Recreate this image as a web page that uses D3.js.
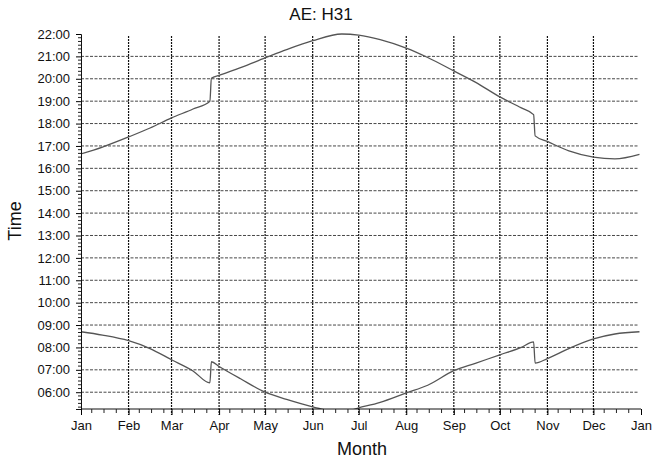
<!DOCTYPE html>
<html>
<head>
<meta charset="utf-8">
<script src="https://cdn.jsdelivr.net/npm/d3@7"></script>
<style>
  body { margin: 0; background: #fff; }
  text { font-family: "Liberation Sans", Arial, sans-serif; fill: #111; }
</style>
</head>
<body>
<svg width="652" height="466"></svg>
<script>
"use strict";

// 日付ごとの日没・日の出 (時間, 10進数)
const sunsetDates = ["2019-01-01","2019-01-15","2019-02-01","2019-02-15","2019-03-01","2019-03-15","2019-03-26","2019-03-27","2019-04-01","2019-04-15","2019-05-01","2019-05-15","2019-06-01","2019-06-20","2019-07-01","2019-07-15","2019-08-01","2019-08-15","2019-09-01","2019-09-15","2019-10-01","2019-10-15","2019-10-23","2019-10-24","2019-11-01","2019-11-15","2019-12-01","2019-12-15","2019-12-31"];
const sunsetHours = [16.64,16.95,17.40,17.80,18.25,18.65,19.00,20.02,20.15,20.50,20.93,21.30,21.70,22.00,21.95,21.75,21.37,20.95,20.35,19.85,19.19,18.70,18.40,17.45,17.20,16.78,16.50,16.42,16.62];

const sunriseDates = sunsetDates;
const sunriseHours = [8.70,8.55,8.30,7.95,7.45,6.95,6.42,7.36,7.15,6.60,6.00,5.68,5.35,5.10,5.30,5.55,5.97,6.31,6.96,7.29,7.67,8.00,8.25,7.30,7.50,7.95,8.38,8.60,8.70];

const titleText = "AE: H31";
const xLabel = "Month";
const yLabel = "Time";
const yMin = 5.25, yMax = 22;

const svg = d3.select("svg");
const pLeft = 81, pRight = 641, pTop = 34, pBottom = 409;
const parse = d3.timeParse("%Y-%m-%d");

const x = d3.scaleTime()
  .domain([new Date(2019, 0, 1), new Date(2020, 0, 1)])
  .range([pLeft, pRight]);
const y = d3.scaleLinear().domain([yMin, yMax]).range([pBottom, pTop]);

const fmtHour = (h) => d3.format("02")(Math.round(h)) + ":00";

// グリッド (横)
const hours = d3.range(6, 22);
svg.append("g").selectAll("line").data(hours).enter().append("line")
  .attr("x1", pLeft).attr("x2", pRight - 2)
  .attr("y1", d => y(d)).attr("y2", d => y(d))
  .attr("stroke", "#333").attr("stroke-width", 0.9)
  .attr("stroke-dasharray", "3,1.5");

// グリッド (縦)
const months = d3.timeMonth.range(new Date(2019, 1, 1), new Date(2020, 0, 1));
svg.append("g").selectAll("line").data(months).enter().append("line")
  .attr("x1", d => x(d)).attr("x2", d => x(d))
  .attr("y1", pTop + 2).attr("y2", pBottom + 6)
  .attr("stroke", "#111").attr("stroke-width", 1.2)
  .attr("stroke-dasharray", "2,1");

// クリップ (下端より下の値は軸の下に隠れる)
svg.append("clipPath").attr("id", "plot")
  .append("rect").attr("x", pLeft).attr("y", pTop - 4)
  .attr("width", pRight - pLeft).attr("height", pBottom - pTop + 4);

const line = d3.line()
  .x(d => x(d.date)).y(d => y(d.h))
  .curve(d3.curveMonotoneX);

const sunset = sunsetDates.map((d, i) => ({ date: parse(d), h: sunsetHours[i] }));
const sunrise = sunriseDates.map((d, i) => ({ date: parse(d), h: sunriseHours[i] }));

[sunset, sunrise].forEach(s => {
  svg.append("path").datum(s)
    .attr("clip-path", "url(#plot)")
    .attr("fill", "none").attr("stroke", "#555").attr("stroke-width", 1.3)
    .attr("d", line);
});

// Y 軸
const yAxis = d3.axisLeft(y).tickValues(d3.range(6, 23)).tickFormat(fmtHour)
  .tickSize(5).tickPadding(6);
const yg = svg.append("g").attr("transform", `translate(${pLeft},0)`).call(yAxis);
yg.select(".domain").attr("stroke", "#111");
yg.selectAll("text").style("font-size", "13px");

const yMinor = d3.range(Math.ceil(yMin * 6), yMax * 6 + 1).map(v => v / 6).filter(v => Math.abs(v - Math.round(v)) > 0.01);
svg.append("g").selectAll("line").data(yMinor).enter().append("line")
  .attr("x1", pLeft - 3).attr("x2", pLeft)
  .attr("y1", d => y(d)).attr("y2", d => y(d))
  .attr("stroke", "#222");

// X 軸
const xAxis = d3.axisBottom(x).ticks(d3.timeMonth.every(1)).tickFormat(d3.timeFormat("%b"))
  .tickSize(6).tickPadding(6);
const xg = svg.append("g").attr("transform", `translate(0,${pBottom})`).call(xAxis);
xg.select(".domain").attr("stroke", "#111").attr("d", `M${pLeft},0H${pRight}`);
xg.selectAll("text").style("font-size", "13px");

const xMinor = d3.timeDay.range(new Date(2019, 0, 1), new Date(2020, 0, 1))
  .filter(d => [8, 16, 24].includes(d.getDate()));
svg.append("g").selectAll("line").data(xMinor).enter().append("line")
  .attr("x1", d => x(d)).attr("x2", d => x(d))
  .attr("y1", pBottom).attr("y2", pBottom + 4)
  .attr("stroke", "#222");

// タイトル・ラベル
svg.append("text").attr("x", 321).attr("y", 20).attr("text-anchor", "middle")
  .style("font-size", "17px").text(titleText);
svg.append("text").attr("x", 362).attr("y", 455).attr("text-anchor", "middle")
  .style("font-size", "18px").text(xLabel);
svg.append("text").attr("transform", "translate(21,221) rotate(-90)")
  .attr("text-anchor", "middle").style("font-size", "18px").text(yLabel);
</script>
</body>
</html>
